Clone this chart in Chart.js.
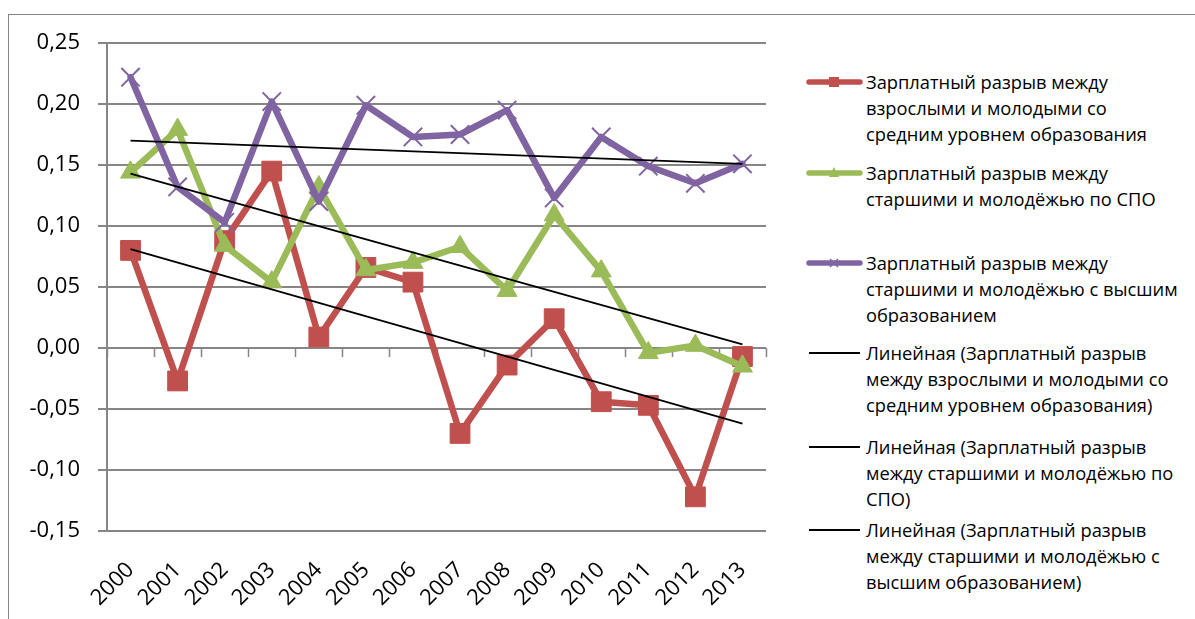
<!DOCTYPE html>
<html lang="ru">
<head>
<meta charset="utf-8">
<title>Зарплатный разрыв</title>
<script src="https://cdn.jsdelivr.net/npm/chart.js@4.4.1/dist/chart.umd.min.js"></script>
<style>
  html, body { margin: 0; padding: 0; background: #fff; }
  #wrap { position: relative; width: 1195px; height: 619px; overflow: hidden; font-family: 'Open Sans', sans-serif; }
  #frame { position: absolute; left: 8px; top: 14px; width: 1400px; height: 800px; border-left: 1.5px solid #868686; border-top: 1.5px solid #868686; }
  #plot { position: absolute; left: 0; top: 0; width: 790px; height: 619px; }
  .entry { position: absolute; left: 806px; }
  .entry svg { position: absolute; left: 0; top: 3px; }
  .entry .txt { position: absolute; left: 60px; top: 0; white-space: nowrap; font-size: 18.3px; line-height: 26px; color: #000; }
</style>
</head>
<body>
<div id="wrap">
  <div id="frame"></div>
  <div id="plot"><canvas id="chart"></canvas></div>
  <div id="legend"></div>
</div>
<script>
// Data
const years = ['2000', '2001', '2002', '2003', '2004', '2005', '2006', '2007', '2008', '2009', '2010', '2011', '2012', '2013'];
const gapSecondary = [0.080, -0.027, 0.088, 0.145, 0.009, 0.066, 0.054, -0.070, -0.014, 0.024, -0.044, -0.047, -0.122, -0.007];
const gapSpo = [0.144, 0.179, 0.084, 0.054, 0.132, 0.064, 0.070, 0.083, 0.047, 0.109, 0.063, -0.004, 0.002, -0.015];
const gapHigher = [0.222, 0.132, 0.103, 0.202, 0.120, 0.199, 0.173, 0.175, 0.195, 0.123, 0.173, 0.149, 0.135, 0.151];

// Linear trend lines, start (2000) and end (2013) values
const trendSecondary = [0.081, -0.062];
const trendSpo = [0.143, 0.003];
const trendHigher = [0.170, 0.151];

const yTicks = [-0.15, -0.10, -0.05, 0.00, 0.05, 0.10, 0.15, 0.20, 0.25];

const nameSecondary = ['Зарплатный разрыв между', 'взрослыми и молодыми со', 'средним уровнем образования'];
const nameSpo = ['Зарплатный разрыв между', 'старшими и молодёжью по СПО'];
const nameHigher = ['Зарплатный разрыв между', 'старшими и молодёжью с высшим', 'образованием'];
const nameTrendSecondary = ['Линейная (Зарплатный разрыв', 'между взрослыми и молодыми со', 'средним уровнем образования)'];
const nameTrendSpo = ['Линейная (Зарплатный разрыв', 'между старшими и молодёжью по', 'СПО)'];
const nameTrendHigher = ['Линейная (Зарплатный разрыв', 'между старшими и молодёжью с', 'высшим образованием)'];

const RED = '#C0504D';
const GREEN = '#9BBB59';
const PURPLE = '#8064A2';
const GRID = '#868686';

function trendPoints(pair) {
  return [{ x: years[0], y: pair[0] }, { x: years[years.length - 1], y: pair[1] }];
}

function fmt(v) {
  if (Math.abs(v) < 1e-9) v = 0;
  return v.toFixed(2).replace('.', ',');
}

// tick marks sitting on the zero line, like Excel's crossing axis
const zeroAxis = {
  id: 'zeroAxis',
  beforeDatasetsDraw(chart) {
    const xs = chart.scales.x, ys = chart.scales.y;
    const y0 = ys.getPixelForValue(0);
    const ctx = chart.ctx;
    ctx.save();
    ctx.strokeStyle = GRID;
    ctx.lineWidth = 1.5;
    ctx.beginPath();
    for (let i = 0; i <= years.length; i++) {
      const px = Math.round(xs.getPixelForValue(i - 0.5)) + 0.5;
      ctx.moveTo(px, y0);
      ctx.lineTo(px, y0 + 9);
    }
    ctx.stroke();
    ctx.restore();
  }
};

const lineStyle = {
  borderWidth: 6.5,
  borderJoinStyle: 'round',
  borderCapStyle: 'round',
  tension: 0,
  fill: false
};

new Chart(document.getElementById('chart'), {
  type: 'line',
  data: {
    labels: years,
    datasets: [
      { data: trendPoints(trendSecondary), borderColor: '#000', borderWidth: 1.8, pointRadius: 0, order: 0 },
      { data: trendPoints(trendSpo), borderColor: '#000', borderWidth: 1.8, pointRadius: 0, order: 0 },
      { data: trendPoints(trendHigher), borderColor: '#000', borderWidth: 1.8, pointRadius: 0, order: 0 },
      Object.assign({
        data: gapHigher, borderColor: PURPLE, pointStyle: 'crossRot', pointRadius: 13,
        pointBorderWidth: 2, pointBorderColor: PURPLE, pointBackgroundColor: PURPLE, order: 1
      }, lineStyle),
      Object.assign({
        data: gapSpo, borderColor: GREEN, pointStyle: 'triangle', pointRadius: 11.5,
        pointBorderWidth: 1, pointBorderColor: GREEN, pointBackgroundColor: GREEN, order: 2
      }, lineStyle),
      Object.assign({
        data: gapSecondary, borderColor: RED, pointStyle: 'rect', pointRadius: 14,
        pointBorderWidth: 1, pointBorderColor: RED, pointBackgroundColor: RED, order: 3
      }, lineStyle)
    ]
  },
  options: {
    responsive: true,
    maintainAspectRatio: false,
    animation: false,
    layout: { padding: { top: 43, right: 24, left: 0, bottom: 0 } },
    plugins: { legend: { display: false }, tooltip: { enabled: false } },
    scales: {
      x: {
        type: 'category',
        offset: true,
        grid: { display: false, drawTicks: false },
        border: { display: false },
        ticks: {
          color: '#000', font: { family: 'Open Sans', size: 22 },
          maxRotation: 45, minRotation: 45, autoSkip: false, padding: 26
        },
        afterFit(scale) { scale.height = 88; }
      },
      y: {
        min: -0.15,
        max: 0.25,
        afterBuildTicks(scale) { scale.ticks = yTicks.map(v => ({ value: v })); },
        grid: { color: GRID, lineWidth: 2, tickLength: 9, drawTicks: true },
        border: { display: true, color: GRID, width: 2 },
        ticks: {
          color: '#000', font: { family: 'Open Sans', size: 22 }, padding: 18,
          callback: v => fmt(v)
        },
        afterFit(scale) { scale.width = 107; }
      }
    }
  },
  plugins: [zeroAxis]
});

// Legend
const legendEntries = [
  { lines: nameSecondary, color: RED, marker: 'rect', top: 69 },
  { lines: nameSpo, color: GREEN, marker: 'triangle', top: 160 },
  { lines: nameHigher, color: PURPLE, marker: 'cross', top: 250 },
  { lines: nameTrendSecondary, color: '#000', marker: 'none', top: 340 },
  { lines: nameTrendSpo, color: '#000', marker: 'none', top: 434 },
  { lines: nameTrendHigher, color: '#000', marker: 'none', top: 517 }
];

function swatch(e) {
  const thick = e.marker === 'none' ? 1.8 : 5.5;
  let mark = '';
  if (e.marker === 'rect') mark = `<rect x="23" y="5" width="10" height="10" fill="${e.color}"/>`;
  if (e.marker === 'triangle') mark = `<polygon points="28,4 33,14 23,14" fill="${e.color}"/>`;
  if (e.marker === 'cross') mark = `<path d="M24,6 L32,14 M32,6 L24,14" stroke="${e.color}" stroke-width="1.5"/>`;
  return `<svg width="57" height="20"><line x1="3" y1="10" x2="54" y2="10" stroke="${e.color}" stroke-width="${thick}" stroke-linecap="${e.marker === 'none' ? 'butt' : 'round'}"/>${mark}</svg>`;
}

document.getElementById('legend').innerHTML = legendEntries.map(e => `
  <div class="entry" style="top:${e.top}px">
    ${swatch(e)}
    <div class="txt">${e.lines.join('<br>')}</div>
  </div>
`).join('');
</script>
</body>
</html>
